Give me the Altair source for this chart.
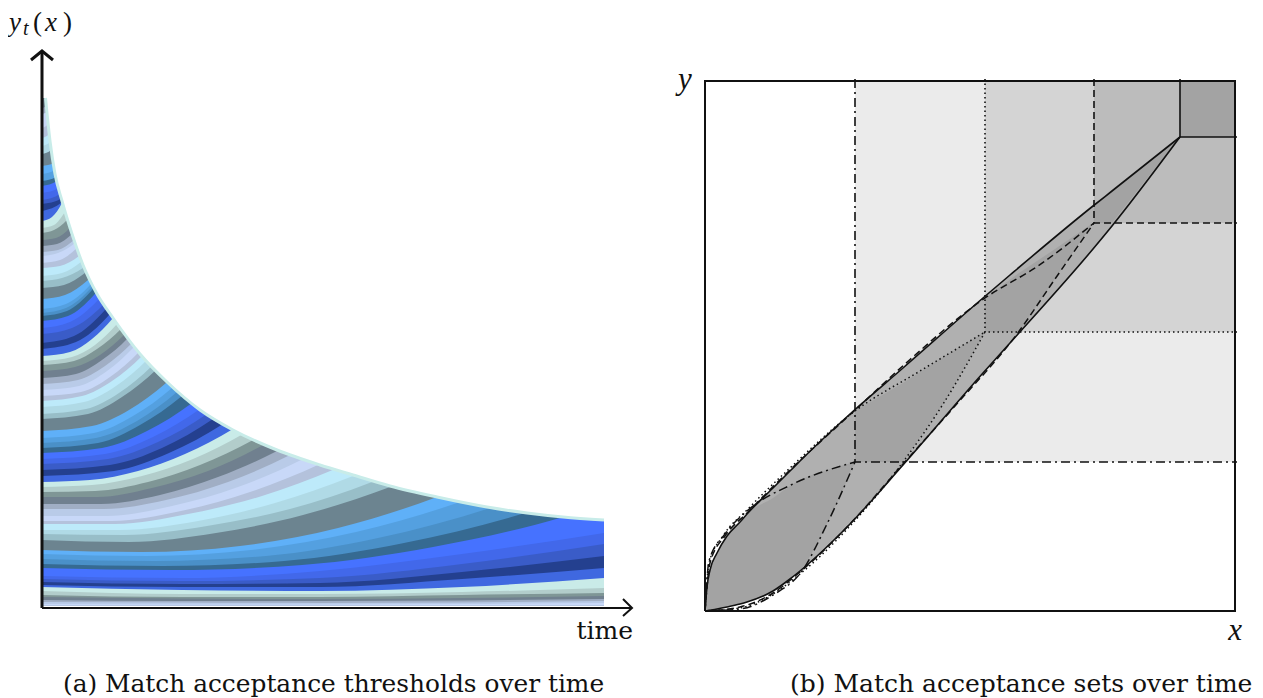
import altair as alt
import pandas as pd

FONT = "Liberation Serif"
TEXT_FONT = "DejaVu Serif"
INK = "#111111"

# ---------- left panel: colour keys ----------
COLORS = {
    "teal": "#c9ebe8", "b2": "#b2cdcb", "7f": "#7f9696", "70": "#70808f",
    "a0": "#a0aec4", "b9": "#b9cbe8", "c8": "#c8d8f8", "b4": "#b4c2dc",
    "bd": "#bdeafa", "b0": "#b0dae6", "98": "#98bec8", "6c": "#6c8490",
    "sky": "#5fb0f8", "54": "#54a0e0", "4a": "#4a90c8", "36": "#366a92",
    "blue": "#4672ff", "42": "#4268ea", "3a": "#3a5cc8", "navy": "#24408f",
    "3f": "#3f68e0",
}

# threshold curves, top of axis first: colour, times, values
CURVES_TOP = [
    ("70", [0, 3.5], [510, 510]),
    ("a0", [0, 4.5, 7], [500, 502, 520]),
    ("c8", [0, 5, 8], [494, 496, 515]),
    ("b4", [0, 6, 9], [480, 484, 500]),
    ("bd", [0, 7, 10], [470, 474, 490]),
    ("b0", [0, 8, 11], [462, 466, 480]),
    ("6c", [0, 9, 13], [454, 458, 472]),
    ("sky", [0, 12, 16], [442, 445, 458]),
    ("54", [0, 13, 17], [434, 438, 450]),
    ("36", [0, 14, 18], [427, 431, 444]),
    ("blue", [0, 15, 20], [422, 427, 440]),
    ("42", [0, 17, 22], [415, 420, 434]),
    ("3a", [0, 18, 24], [408, 414, 428]),
    ("navy", [0, 19, 25], [404, 409, 424]),
    ("3f", [0, 20, 26], [397, 406, 420]),
]
CURVES_1 = [
    ("teal", [0, 10, 20, 25], [387, 391, 405, 416]),
    ("b2", [0, 12, 23, 29], [380, 383, 396, 406]),
    ("7f", [0, 12, 25, 31], [375, 378, 388, 396]),
    ("70", [0, 14, 28, 35], [368, 370, 380, 388]),
    ("a0", [0, 15, 30, 38], [362, 364, 374, 382]),
    ("b9", [0, 16, 32, 40], [356, 358, 368, 376]),
    ("c8", [0, 16, 33, 41], [352, 355, 365, 373]),
    ("b4", [0, 18, 35, 44], [345, 348, 360, 369]),
    ("bd", [0, 18, 37, 46], [340, 342, 352, 360]),
    ("b0", [0, 20, 39, 49], [332, 335, 346, 355]),
    ("98", [0, 20, 41, 51], [327, 330, 340, 348]),
    ("6c", [0, 22, 43, 54], [320, 323, 335, 344]),
    ("sky", [0, 23, 46, 58], [309, 313, 328, 340]),
    ("54", [0, 24, 48, 60], [299, 304, 323, 338]),
    ("4a", [0, 24, 49, 61], [295, 300, 320, 335]),
    ("36", [0, 25, 50, 63], [292, 297, 318, 334]),
    ("blue", [0, 26, 52, 65], [287, 292, 313, 329]),
    ("42", [0, 28, 56, 70], [280, 286, 308, 325]),
    ("3a", [0, 30, 60, 75], [274, 280, 302, 319]),
    ("navy", [0, 32, 63, 79], [265, 272, 298, 318]),
    ("3f", [0, 34, 67, 84], [259, 266, 293, 314]),
]
CURVES_2 = [
    ("teal", [0, 28, 50, 71, 85], [252, 256, 269, 290, 309]),
    ("b2", [0, 30, 53, 75, 90], [247, 251, 263, 284, 302]),
    ("7f", [0, 32, 55, 79, 95], [243, 247, 259, 279, 297]),
    ("70", [0, 33, 58, 83, 100], [237, 241, 253, 274, 292]),
    ("a0", [0, 34, 60, 86, 103], [230, 234, 248, 270, 290]),
    ("b9", [0, 36, 63, 90, 108], [224, 228, 242, 265, 285]),
    ("c8", [0, 37, 65, 93, 112], [218, 222, 237, 262, 284]),
    ("b4", [0, 39, 68, 97, 116], [212, 216, 231, 256, 278]),
    ("bd", [0, 40, 70, 100, 120], [207, 212, 227, 252, 275]),
    ("b0", [0, 42, 74, 105, 126], [201, 206, 222, 248, 271]),
    ("98", [0, 44, 77, 110, 132], [194, 199, 215, 242, 266]),
    ("6c", [0, 46, 80, 114, 137], [189, 194, 211, 238, 262]),
    ("sky", [0, 50, 87, 124, 149], [177, 182, 198, 225, 249]),
    ("54", [0, 52, 91, 130, 156], [170, 175, 192, 220, 245]),
    ("4a", [0, 54, 95, 135, 162], [165, 170, 187, 216, 241]),
    ("36", [0, 56, 98, 140, 168], [160, 165, 183, 212, 238]),
    ("blue", [0, 60, 105, 150, 180], [155, 160, 177, 205, 230]),
    ("42", [0, 63, 111, 158, 190], [149, 154, 171, 199, 224]),
    ("3a", [0, 66, 116, 165, 198], [144, 149, 166, 194, 219]),
    ("navy", [0, 68, 120, 171, 205], [138, 143, 160, 189, 214]),
    ("3f", [0, 72, 127, 181, 217], [132, 137, 155, 184, 210]),
]
CURVES_3 = [
    ("teal", [0, 48, 96, 143, 191, 229], [126, 128, 137, 154, 179, 204]),
    ("b2", [0, 50, 100, 151, 201, 241], [121, 123, 132, 149, 174, 199]),
    ("7f", [0, 53, 106, 158, 211, 253], [116, 117, 126, 143, 168, 194]),
    ("70", [0, 55, 110, 166, 221, 265], [111, 111, 120, 137, 163, 190]),
    ("a0", [0, 59, 118, 176, 235, 282], [104, 104, 113, 131, 157, 184]),
    ("b9", [0, 62, 124, 186, 248, 298], [99, 99, 108, 126, 153, 181]),
    ("c8", [0, 65, 130, 196, 261, 313], [92, 92, 102, 121, 149, 178]),
    ("b4", [0, 70, 139, 208, 278, 334], [87, 87, 97, 116, 144, 173]),
    ("bd", [0, 73, 146, 220, 293, 352], [84, 84, 94, 112, 139, 167]),
    ("b0", [0, 78, 156, 233, 311, 373], [78, 78, 87, 105, 132, 160]),
    ("98", [0, 82, 165, 248, 330, 396], [74, 73, 82, 99, 126, 155]),
    ("6c", [0, 87, 174, 261, 348, 418], [68, 66, 75, 93, 121, 151]),
    ("sky", [0, 99, 198, 296, 395, 474], [58, 56, 62, 80, 111, 144]),
    ("54", [0, 105, 209, 314, 418, 502], [54, 52, 58, 76, 106, 139]),
    ("4a", [0, 112, 224, 336, 448, 538], [49, 47, 52, 70, 100, 133]),
    ("36", [0, 121, 242, 362, 483, 562], [44, 42, 47, 65, 95, 122]),
    ("blue", [0, 130, 260, 391, 521, 562], [40, 38, 43, 61, 91, 104]),
    ("42", [0, 140, 278, 420, 562], [32, 30, 37, 54, 75]),
    ("3a", [0, 140, 278, 420, 562], [29, 27, 30, 44, 64]),
    ("navy", [0, 140, 278, 420, 562], [26, 24, 25, 36, 52]),
    ("3f", [0, 140, 278, 420, 562], [23, 21, 21, 29, 40]),
]
CURVES_4 = [
    ("teal", [0, 140, 278, 420, 562], [21, 18, 17, 21, 30]),
    ("b2", [0, 140, 278, 420, 562], [17, 14, 14, 16, 20]),
    ("7f", [0, 140, 278, 420, 562], [13, 11, 11, 13, 15]),
    ("70", [0, 140, 278, 420, 562], [11, 9.5, 9, 10, 12]),
    ("a0", [0, 140, 278, 420, 562], [8, 7, 7, 7.5, 9]),
    ("b9", [0, 140, 278, 420, 562], [6, 5.5, 5, 5.5, 7]),
    ("c8", [0, 140, 278, 420, 562], [4, 3.5, 3.5, 4, 5]),
]
BAND_FLOOR = 2.5

ENV_T = [3.5, 8, 13, 20, 30, 41, 55, 71, 98, 125, 158, 191, 235, 278, 311, 348, 395, 445, 485, 521, 563]
ENV_V = [510, 467, 434, 407, 374, 343, 314, 290, 254, 226, 198, 178, 158, 143, 133, 122, 111, 101, 95, 91, 87]
MASK_TOP = 525

Y_AXIS_T, Y_AXIS_V = [0, 0], [0, 557]
X_AXIS_T, X_AXIS_V = [0, 590], [0, 0]
Y_HEAD_T, Y_HEAD_V = [-11, 0, 11], [548, 557, 548]
X_HEAD_T, X_HEAD_V = [581, 590, 581], [9, 0, -8]

# ---------- right panel ----------
SET_X = [0, 150, 280, 389, 475]          # left edges of the acceptance quadrants
SET_Y = [0, 149, 279, 388, 474]
SET_GREY = ["#ffffff", "#ebebeb", "#d4d4d4", "#bcbcbc", "#a3a3a3"]
BOX = 530

LENS_X = [0, 2, 5, 12, 22, 35, 42, 68, 85, 95, 145, 198, 278, 305, 388, 407, 475]
LENS_LO = [0, 0.3, 0.8, 2, 4, 7, 9, 20, 32, 40, 87, 146, 238, 268, 362, 385, 474]
LENS_HI = [0, 24, 41, 58, 75, 89, 97, 123, 140, 150, 197, 243, 313, 336, 405, 420, 474]

DARK = [
    ([0, 2, 5, 12, 22, 35, 42, 68, 88, 97, 122, 150],
     [0, 0.3, 0.8, 2, 4, 7, 9, 20, 34, 43, 87, 149],
     [0, 24, 41, 58, 75, 89, 97, 113, 127, 132, 141, 149]),
    ([150, 198, 240, 280], [149, 149, 210, 279], [200, 228, 255, 279]),
    ([280, 314, 350, 388], [279, 279, 332, 388], [313, 338, 362, 388]),
    ([389, 407, 440, 475], [388, 388, 430, 474], [405, 420, 446, 474]),
]

DASH_C = [7, 4]
DOT_B = [1.5, 3]
DASHDOT_A = [9, 4, 2, 4]

LENS_CURVES = [
    # x, y, dash
    ([0, 5, 20, 42, 85, 148, 200, 280, 333, 389], [0, 48, 75, 98, 141, 199, 247, 313, 345, 388], DASH_C),
    ([0, 35, 68, 95, 145, 198, 250, 312, 350, 389], [0, 4, 18, 39, 87, 147, 205, 277, 332, 388], DASH_C),
    ([0, 4, 18, 42, 85, 150, 215, 280], [0, 48, 75, 101, 143, 200, 240, 279], DOT_B),
    ([0, 35, 68, 95, 145, 198, 240, 280], [0, 3, 17, 37, 85, 149, 210, 279], DOT_B),
    ([0, 4, 20, 42, 88, 150], [0, 50, 77, 100, 127, 149], DASHDOT_A),
    ([0, 35, 68, 97, 122, 150], [0, 2, 16, 40, 87, 149], DASHDOT_A),
]
GUIDE_EXTRA = 2

# ---------- scales: one unit is drawn as one screen pixel ----------
sx_l = alt.Scale(domain=[-34, 618], nice=False, zero=False)
sy_l = alt.Scale(domain=[-89, 599], nice=False, zero=False)
sx_r = alt.Scale(domain=[-45, 550], nice=False, zero=False)
sy_r = alt.Scale(domain=[-86, 602], nice=False, zero=False)
W_L, W_R, H = 652, 595, 688


def X(s):
    return alt.X("x:Q", scale=s, axis=None)


def Y(s):
    return alt.Y("y:Q", scale=s, axis=None)


def line(xs, ys, sx, sy, width=1.5, dash=None, interp="linear", color=INK):
    df = pd.DataFrame({"x": xs, "y": ys, "i": range(len(xs))})
    kw = {"strokeDash": dash} if dash else {}
    return alt.Chart(df).mark_line(
        color=color, strokeWidth=width, interpolate=interp, strokeCap="butt", **kw
    ).encode(x=X(sx), y=Y(sy), order=alt.Order("i:Q"))


def area(xs, lo, hi, sx, sy, color, interp="linear"):
    df = pd.DataFrame({"x": xs, "y": hi, "y2": lo})
    return alt.Chart(df).mark_area(
        color=color, interpolate=interp, orient="vertical", opacity=1
    ).encode(x=X(sx), y=Y(sy), y2=alt.Y2("y2:Q"))


def text(rows, sx, sy):
    layers = []
    for (s, x, y, size, style, align, font) in rows:
        df = pd.DataFrame({"x": [x], "y": [y], "s": [s]})
        layers.append(alt.Chart(df).mark_text(
            font=font, fontSize=size, fontStyle=style, align=align,
            baseline="alphabetic", color=INK
        ).encode(x=X(sx), y=Y(sy), text="s:N"))
    return layers


# ---------- left ----------
rows = []
all_curves = CURVES_TOP + CURVES_1 + CURVES_2 + CURVES_3 + CURVES_4
for n, (key, ts, vs) in enumerate(all_curves):
    for t, v in zip(ts, vs):
        rows.append({"x": t, "y": v, "y2": BAND_FLOOR, "id": f"r{n:03d}", "c": COLORS[key]})
bands = alt.Chart(pd.DataFrame(rows)).mark_area(
    interpolate="monotone", orient="vertical", opacity=1
).encode(
    x=X(sx_l), y=Y(sy_l), y2=alt.Y2("y2:Q"),
    color=alt.Color("c:N", scale=None, legend=None),
    detail="id:N",
)

mask = area([0] + ENV_T, [ENV_V[0]] + ENV_V, [MASK_TOP] * (len(ENV_T) + 1), sx_l, sy_l, "#ffffff", "monotone")
env = line(ENV_T[:-1] + [562], ENV_V[:-1] + [88], sx_l, sy_l, width=3, interp="monotone", color="#c8ece9")

left_text = text([
    ("y", -33, 577, 27, "italic", "left", FONT),
    ("t", -19, 573, 20, "italic", "left", FONT),
    ("(", -9, 577, 27, "normal", "left", FONT),
    ("x", 3, 577, 27, "italic", "left", FONT),
    (")", 21, 577, 27, "normal", "left", FONT),
    ("time", 591, -31, 25, "normal", "right", TEXT_FONT),
    ("(a) Match acceptance thresholds over time", 21, -84, 24.85, "normal", "left", TEXT_FONT),
], sx_l, sy_l)

left = alt.layer(
    bands, mask, env,
    line(Y_AXIS_T, Y_AXIS_V, sx_l, sy_l, width=3),
    line(X_AXIS_T, X_AXIS_V, sx_l, sy_l, width=2),
    line(Y_HEAD_T, Y_HEAD_V, sx_l, sy_l, width=3),
    line(X_HEAD_T, X_HEAD_V, sx_l, sy_l, width=2),
    *left_text,
).properties(width=W_L, height=H)

# ---------- right ----------
rects = []
for i in range(1, 5):
    df = pd.DataFrame({"x": [SET_X[i]], "x2": [BOX], "y": [SET_Y[i]], "y2": [BOX]})
    rects.append(alt.Chart(df).mark_rect(color=SET_GREY[i], opacity=1).encode(
        x=X(sx_r), x2="x2:Q", y=Y(sy_r), y2="y2:Q"))

dark = [area(a, b, c, sx_r, sy_r, "#a3a3a3", "monotone" if k == 0 else "linear")
        for k, (a, b, c) in enumerate(DARK)]

guides = []
for i, dash in zip([1, 2, 3, 4], [DASHDOT_A, DOT_B, DASH_C, None]):
    guides.append(line([SET_X[i], SET_X[i], BOX + GUIDE_EXTRA],
                       [BOX + GUIDE_EXTRA, SET_Y[i], SET_Y[i]],
                       sx_r, sy_r, width=1.6, dash=dash))

lens_lines = [line(a, b, sx_r, sy_r, width=1.5, dash=d, interp="monotone") for a, b, d in LENS_CURVES]

right_text = text([
    ("y", -27, 522, 31, "italic", "left", FONT),
    ("x", 537, -29, 31, "italic", "right", FONT),
    ("(b) Match acceptance sets over time", 85, -81, 25, "normal", "left", TEXT_FONT),
], sx_r, sy_r)

right = alt.layer(
    *rects,
    area(LENS_X, LENS_LO, LENS_HI, sx_r, sy_r, "#b0b0b0", "monotone"),
    *dark,
    *guides,
    *lens_lines,
    line(LENS_X, LENS_HI, sx_r, sy_r, width=1.6, interp="monotone"),
    line(LENS_X, LENS_LO, sx_r, sy_r, width=1.6, interp="monotone"),
    line([0, 0, BOX, BOX, 0], [0, BOX, BOX, 0, 0], sx_r, sy_r, width=2),
    *right_text,
).properties(width=W_R, height=H)

chart = alt.hconcat(left, right, spacing=0, bounds="flush", padding=0).configure_view(stroke=None)
chart.save("out.html", embed_options={"renderer": "svg", "actions": False})
